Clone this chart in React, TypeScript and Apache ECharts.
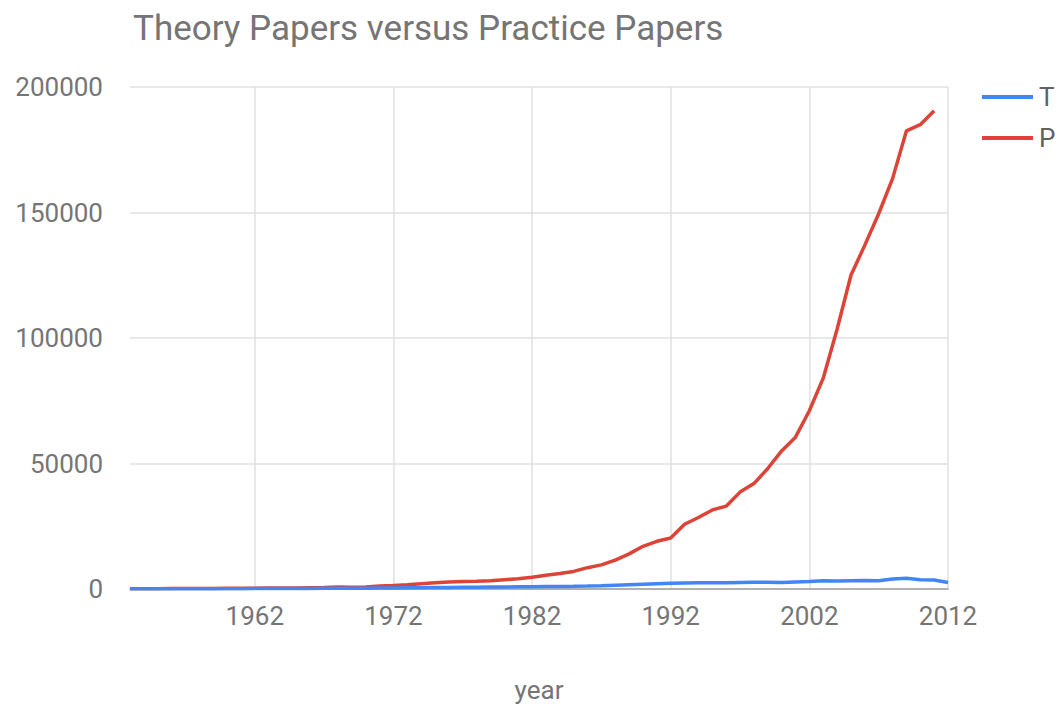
import React, { useEffect, useRef } from "react";
import * as echarts from "echarts";

const years: string[] = [];
for (let y = 1953; y <= 2012; y++) years.push(String(y));

const theory: (number | null)[] = [
  50, 50, 60, 80, 80, 100, 100, 120, 130, 150,
  160, 180, 200, 220, 250, 270, 300, 330, 380, 420,
  470, 520, 560, 600, 650, 700, 750, 800, 850, 900,
  950, 1000, 1050, 1150, 1300, 1500, 1700, 1900, 2100, 2300,
  2400, 2500, 2500, 2500, 2600, 2700, 2700, 2600, 2800, 3000,
  3300, 3200, 3300, 3400, 3300, 4000, 4300, 3700, 3600, 2600,
];

const practice: (number | null)[] = [
  100, 100, 100, 150, 150, 200, 200, 300, 300, 300,
  350, 400, 400, 500, 600, 800, 700, 800, 1200, 1400,
  1700, 2100, 2500, 2800, 3000, 3100, 3300, 3700, 4100, 4700,
  5500, 6200, 7000, 8500, 9600, 11500, 14000, 17000, 19000, 20300,
  25800, 28500, 31500, 33000, 38600, 42000, 48000, 55000, 60500, 71000,
  84000, 103500, 125000, 137000, 149500, 163500, 182500, 185000, 190500, null,
];

const seriesNames = ["T", "P"];
const yTicks = { min: 0, max: 200000, interval: 50000 };

export default function App() {
  const ref = useRef<HTMLDivElement>(null);
  useEffect(() => {
    document.body.style.margin = "0";
    if (!ref.current) return;
    const chart = echarts.init(ref.current, undefined, { renderer: "svg" });
    const labelColor = "#757575";
    const font = "Roboto, sans-serif";
    const showTick = (idx: number, val: string) => Number(val) % 10 === 2 && idx > 0;
    chart.setOption({
      animation: false,
      textStyle: { fontFamily: font },
      title: {
        text: "Theory Papers versus Practice Papers",
        left: 128,
        top: 6,
        textStyle: { fontSize: 35, fontWeight: "normal", color: labelColor, fontFamily: font },
      },
      legend: {
        orient: "vertical",
        left: 977,
        top: 79,
        itemWidth: 51,
        itemHeight: 4,
        itemGap: 15,
        icon: "rect",
        data: seriesNames,
        textStyle: { fontSize: 26, lineHeight: 25, color: "#616161", padding: [0, 0, 0, 1], fontFamily: font },
      },
      grid: {
        left: 130,
        right: 111,
        top: 87,
        bottom: 115,
        containLabel: false,
        outerBoundsMode: "none",
      },
      xAxis: {
        type: "category",
        data: years,
        boundaryGap: false,
        name: "year",
        nameLocation: "middle",
        nameGap: 88,
        nameTextStyle: { fontSize: 26, color: labelColor, fontFamily: font },
        axisLine: { lineStyle: { color: "#9e9e9e", width: 1.5 } },
        axisTick: { show: false },
        axisLabel: { interval: showTick, fontSize: 26, color: labelColor, margin: 14, fontFamily: font },
        splitLine: { show: true, interval: showTick, lineStyle: { color: "#e0e0e0", width: 1.5 } },
      },
      yAxis: {
        type: "value",
        min: yTicks.min,
        max: yTicks.max,
        interval: yTicks.interval,
        axisLine: { show: false },
        axisTick: { show: false },
        axisLabel: {
          fontSize: 26,
          color: labelColor,
          margin: 27,
          fontFamily: font,
          formatter: (v: number) => String(v),
        },
        splitLine: { lineStyle: { color: "#e0e0e0", width: 1.5 } },
      },
      series: [
        {
          name: seriesNames[0],
          type: "line",
          data: theory,
          showSymbol: false,
          lineStyle: { width: 3.5, color: "#4285f4" },
          itemStyle: { color: "#4285f4" },
          z: 3,
        },
        {
          name: seriesNames[1],
          type: "line",
          data: practice,
          showSymbol: false,
          lineStyle: { width: 3.5, color: "#db4437" },
          itemStyle: { color: "#db4437" },
          z: 2,
        },
      ],
    });
    return () => chart.dispose();
  }, []);
  return <div ref={ref} style={{ width: 1059, height: 704 }} />;
}
